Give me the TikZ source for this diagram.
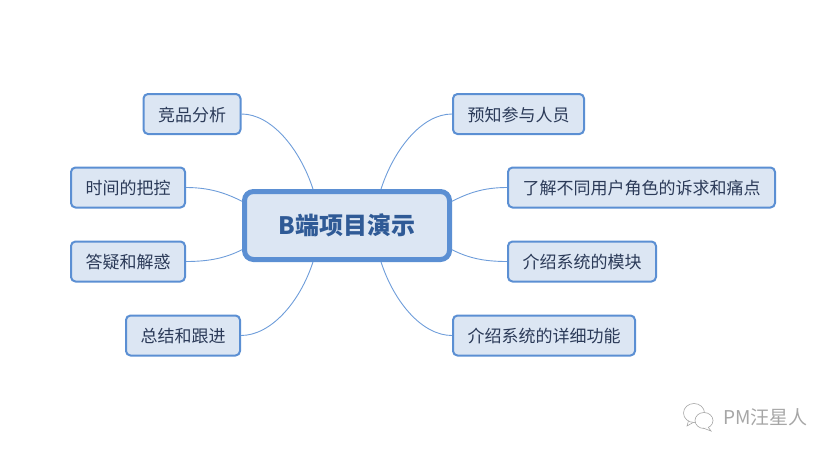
\documentclass[tikz,border=0pt]{standalone}
\usepackage{fontspec}
\setmainfont{Noto Sans CJK SC}
\definecolor{boxline}{HTML}{5B8FD3}
\definecolor{boxfill}{HTML}{DCE6F3}
\definecolor{branchline}{HTML}{6E9DDA}
\definecolor{leaftext}{HTML}{2B3A58}
\definecolor{roottext}{HTML}{2F5A96}
\definecolor{marktext}{HTML}{A6A6A6}
\tikzset{
  leaf/.style={draw=boxline, fill=boxfill, line width=2pt, rounded corners=4.5pt,
    inner sep=0pt, minimum height=40pt, text height=15pt, text depth=1pt, text=leaftext,
    font=\fontsize{17}{20}\selectfont},
  root/.style={draw=boxline, fill=boxfill, line width=5pt, rounded corners=9pt,
    inner sep=0pt, minimum width=205pt, minimum height=68pt, text=roottext,
    font=\fontsize{24}{28}\selectfont\bfseries},
  branch/.style={draw=branchline, line width=0.9pt},
  wechat/.style={draw=marktext, line width=0.6pt, fill=white},
}
\begin{document}
\begin{tikzpicture}[x=1pt,y=-1pt]
  \useasboundingbox (0,0) rectangle (836,453);
  \node[root] (r) at (347,225.5) {B端项目演示};

  \node[leaf, minimum width=97pt] (jp) at (192,114) {竞品分析};
  \node[leaf, minimum width=114pt] (sj) at (128,187.5) {时间的把控};
  \node[leaf, minimum width=114pt] (dy) at (128,261.5) {答疑和解惑};
  \node[leaf, minimum width=114pt] (zj) at (183,335.5) {总结和跟进};
  \node[leaf, minimum width=131pt] (yz) at (518.5,114) {预知参与人员};
  \node[leaf, minimum width=267pt] (lj) at (641.5,187.5) {了解不同用户角色的诉求和痛点};
  \node[leaf, minimum width=148pt] (mk) at (582,261.5) {介绍系统的模块};
  \node[leaf, minimum width=182pt] (gn) at (544,335.5) {介绍系统的详细功能};

  \draw[branch] (jp.east) .. controls +(30,0) and +(-13,-40) .. (r.133);
  \draw[branch] (sj.east) .. controls +(24,0) and +(-16,-8) .. (r.167);
  \draw[branch] (dy.east) .. controls +(24,0) and +(-16,8) .. (r.193);
  \draw[branch] (zj.east) .. controls +(30,0) and +(-13,40) .. (r.227);
  \draw[branch] (yz.west) .. controls +(-30,0) and +(13,-40) .. (r.47);
  \draw[branch] (lj.west) .. controls +(-24,0) and +(16,-8) .. (r.13);
  \draw[branch] (mk.west) .. controls +(-24,0) and +(16,8) .. (r.-13);
  \draw[branch] (gn.west) .. controls +(-30,0) and +(13,40) .. (r.-47);

  % watermark
  \draw[wechat] (689,419) -- (687,426) -- (694,422);
  \draw[wechat] (694,413) ellipse [x radius=10.5, y radius=9.5];
  \draw[wechat] (704,420.5) ellipse [x radius=9, y radius=8];
  \draw[wechat] (708,427) -- (711,431) -- (703,428);
  \node[inner sep=0pt, text=marktext, font=\fontsize{19}{22}\selectfont] (wm) at (765.5,417) {PM汪星人};
\end{tikzpicture}
\end{document}
